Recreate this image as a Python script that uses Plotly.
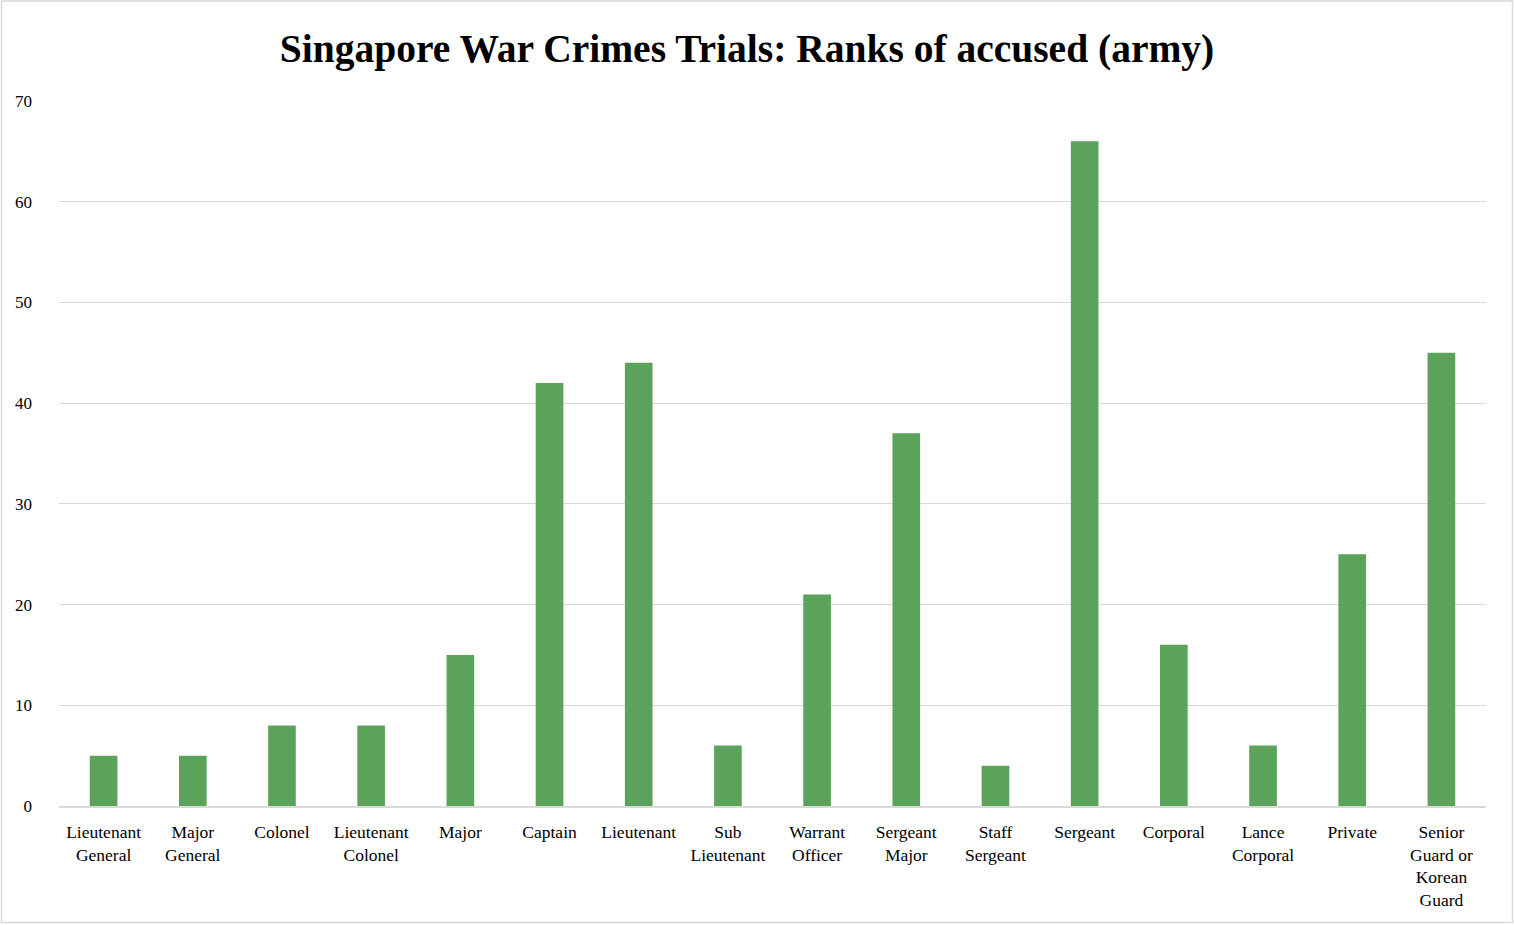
import plotly.graph_objects as go

ranks = ["Lieutenant<br>General", "Major<br>General", "Colonel", "Lieutenant<br>Colonel",
         "Major", "Captain", "Lieutenant", "Sub<br>Lieutenant", "Warrant<br>Officer",
         "Sergeant<br>Major", "Staff<br>Sergeant", "Sergeant", "Corporal", "Lance<br>Corporal",
         "Private", "Senior<br>Guard or<br>Korean<br>Guard"]
counts = [5, 5, 8, 8, 15, 42, 44, 6, 21, 37, 4, 66, 16, 6, 25, 45]
y_ticks = [0, 10, 20, 30, 40, 50, 60, 70]

W, H = 1514, 925
L, R, T, B = 59, 28, 101, 119
pw, ph = W - L - R, H - T - B

fig = go.Figure(go.Bar(x=ranks, y=counts, marker=dict(color="#5BA35A", line=dict(width=0)),
                       width=0.31, hoverinfo="x+y"))

def px(xp):
    return (xp - L) / pw

def py(yp):
    return (H - B - yp) / ph

fig.update_layout(
    width=W, height=H,
    margin=dict(l=L, r=R, t=T, b=B),
    paper_bgcolor="white", plot_bgcolor="white",
    font=dict(family="Liberation Serif", color="#000000", size=17),
    title=dict(text="<b>Singapore War Crimes Trials: Ranks of accused (army)</b>",
               x=(747) / W, xanchor="center", y=1 - 48 / H, yanchor="middle",
               font=dict(size=39.5, family="Liberation Serif", color="#000000")),
    showlegend=False,
    bargap=0.69,
    xaxis=dict(showgrid=False, showline=True, linecolor="#D9D9D9", linewidth=1.5,
               ticks="", tickfont=dict(size=17.5), tickangle=0, automargin=False,
               ticklabelstandoff=9),
    yaxis=dict(range=[0, 70], tickvals=y_ticks, showgrid=True, gridcolor="#D9D9D9",
               gridwidth=1.2, zeroline=False, showline=False, ticks="",
               ticklabelstandoff=26, tickfont=dict(size=17), automargin=False),
    shapes=[dict(type="rect", xref="paper", yref="paper",
                 x0=px(1.5), x1=px(1512.5), y0=py(922.5), y1=py(1.0),
                 line=dict(color="#D9D9D9", width=1.5), fillcolor="rgba(0,0,0,0)", layer="below")],
)

fig.write_html("out.html", config={"displayModeBar": False},
               post_script="document.body.style.margin='0';document.body.style.overflow='hidden';")
